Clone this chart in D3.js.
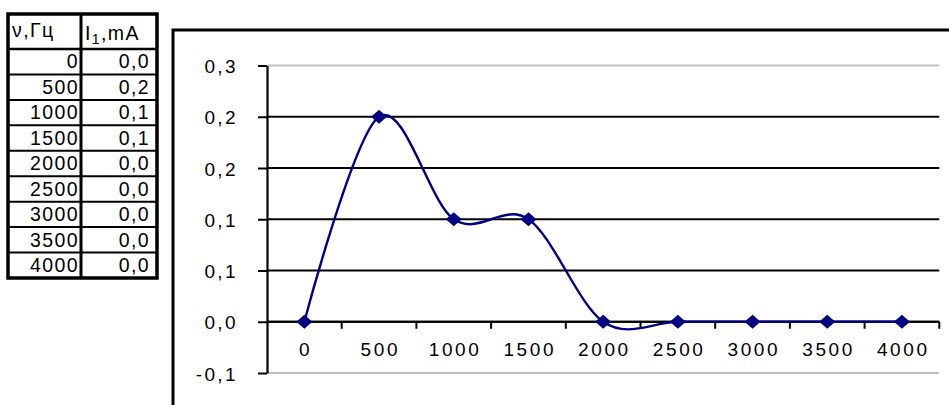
<!DOCTYPE html>
<html>
<head>
<meta charset="utf-8">
<script src="https://cdn.jsdelivr.net/npm/d3@7.9.0/dist/d3.min.js"></script>
<style>
  html, body { margin: 0; padding: 0; background: #fff; }
  svg { display: block; font-family: "Liberation Sans", Arial, sans-serif; }
</style>
</head>
<body>
<svg id="chart" width="949" height="405"></svg>
<script>
const frequencies = [0, 500, 1000, 1500, 2000, 2500, 3000, 3500, 4000];
const currents = [0, 0.2, 0.1, 0.1, 0, 0, 0, 0, 0];
const yTickValues = [-0.05, 0, 0.05, 0.1, 0.15, 0.2, 0.25];
const yTickLabels = ["-0,1", "0,0", "0,1", "0,1", "0,2", "0,2", "0,3"];
const freqHeader = "ν,Гц";
const currentHeader = ["I", "1", ",mA"];

const svg = d3.select("#chart");
const formatComma = (v) => v.toFixed(1).replace(".", ",");

/* ---- data table on the left ---- */
const tbl = { left: 8, mid: 81, right: 157, top: 14, headBottom: 49, bottom: 278 };
const rowY = d3.scaleBand().domain(frequencies).range([tbl.headBottom, tbl.bottom]);
const tg = svg.append("g").attr("class", "table");

// inner row lines
frequencies.slice(1).forEach((f) => {
  tg.append("line")
    .attr("x1", tbl.left).attr("x2", tbl.right)
    .attr("y1", rowY(f)).attr("y2", rowY(f))
    .attr("stroke", "#000").attr("stroke-width", 2);
});
tg.append("line")
  .attr("x1", tbl.left).attr("x2", tbl.right)
  .attr("y1", tbl.headBottom).attr("y2", tbl.headBottom)
  .attr("stroke", "#000").attr("stroke-width", 2.5);
tg.append("line")
  .attr("x1", tbl.mid).attr("x2", tbl.mid)
  .attr("y1", tbl.top).attr("y2", tbl.bottom)
  .attr("stroke", "#000").attr("stroke-width", 3);
tg.append("rect")
  .attr("x", tbl.left).attr("y", tbl.top)
  .attr("width", tbl.right - tbl.left).attr("height", tbl.bottom - tbl.top)
  .attr("fill", "none").attr("stroke", "#000").attr("stroke-width", 3.5);

const tText = tg.append("g")
  .attr("font-size", 19.5).attr("letter-spacing", 1.4).attr("fill", "#000");

tText.append("text").attr("x", 12).attr("y", 37).text(freqHeader);
const ih = tText.append("text").attr("x", 85).attr("y", 40);
ih.append("tspan").text(currentHeader[0]);
ih.append("tspan").attr("font-size", 14).attr("dy", 4).text(currentHeader[1]);
ih.append("tspan").attr("dy", -4).text(currentHeader[2]);

frequencies.forEach((f, i) => {
  const base = rowY(f) + rowY.bandwidth() - 6;
  tText.append("text").attr("x", 79).attr("y", base)
    .attr("text-anchor", "end").text(f);
  tText.append("text").attr("x", 150).attr("y", base)
    .attr("text-anchor", "end").text(formatComma(currents[i]));
});

/* ---- chart ---- */
svg.append("rect")
  .attr("x", 173).attr("y", 30).attr("width", 820).attr("height", 420)
  .attr("fill", "none").attr("stroke", "#000").attr("stroke-width", 3);

const x = d3.scaleBand().domain(frequencies).range([267, 939.3]);
const y = d3.scaleLinear().domain([-0.05, 0.25]).range([373, 65.5]);
const cx = (f) => x(f) + x.bandwidth() / 2;

const grid = svg.append("g");
yTickValues.forEach((v, i) => {
  const edge = i === 0 || i === yTickValues.length - 1;
  grid.append("line")
    .attr("x1", x.range()[0]).attr("x2", x.range()[1])
    .attr("y1", y(v)).attr("y2", y(v))
    .attr("stroke", edge ? "#c0c0c0" : "#000")
    .attr("stroke-width", 2);
});

// y axis
const yAxis = svg.append("g")
  .attr("transform", `translate(${x.range()[0]},0)`)
  .call(d3.axisLeft(y).tickValues(yTickValues)
    .tickFormat((d, i) => yTickLabels[i])
    .tickSize(9).tickSizeOuter(0).tickPadding(20));
yAxis.select(".domain").attr("stroke", "#000").attr("stroke-width", 2.2);
yAxis.selectAll(".tick line").attr("stroke", "#000").attr("stroke-width", 2);
yAxis.selectAll(".tick text")
  .attr("font-family", "Liberation Sans, Arial, sans-serif")
  .attr("font-size", 19).attr("letter-spacing", 2.4).attr("fill", "#000")
  .attr("dy", "0.38em");

// x axis at zero
const y0 = y(0);
svg.append("line")
  .attr("x1", x.range()[0]).attr("x2", x.range()[1])
  .attr("y1", y0).attr("y2", y0)
  .attr("stroke", "#000").attr("stroke-width", 2.2);
[...frequencies.map((f) => x(f)).slice(1), x.range()[1]].forEach((bx) => {
  svg.append("line")
    .attr("x1", bx).attr("x2", bx).attr("y1", y0).attr("y2", y0 + 7)
    .attr("stroke", "#000").attr("stroke-width", 2);
});
const xAxis = svg.append("g")
  .attr("transform", `translate(0,${y0})`)
  .call(d3.axisBottom(x).tickSize(0).tickPadding(21));
xAxis.select(".domain").remove();
xAxis.selectAll(".tick text")
  .attr("font-family", "Liberation Sans, Arial, sans-serif")
  .attr("font-size", 19).attr("letter-spacing", 2.6).attr("fill", "#000")
  .attr("dx", 1.3);

// series
const line = d3.line()
  .x((d, i) => cx(frequencies[i]))
  .y((d) => y(d))
  .curve(d3.curveCardinal.tension(0));
svg.append("path")
  .attr("d", line(currents))
  .attr("fill", "none").attr("stroke", "#000080").attr("stroke-width", 2.4);

svg.append("g").selectAll("path")
  .data(currents)
  .join("path")
  .attr("transform", (d, i) => `translate(${cx(frequencies[i])},${y(d)})`)
  .attr("d", "M0,-7L8,0L0,7L-8,0Z")
  .attr("fill", "#000080");
</script>
</body>
</html>
